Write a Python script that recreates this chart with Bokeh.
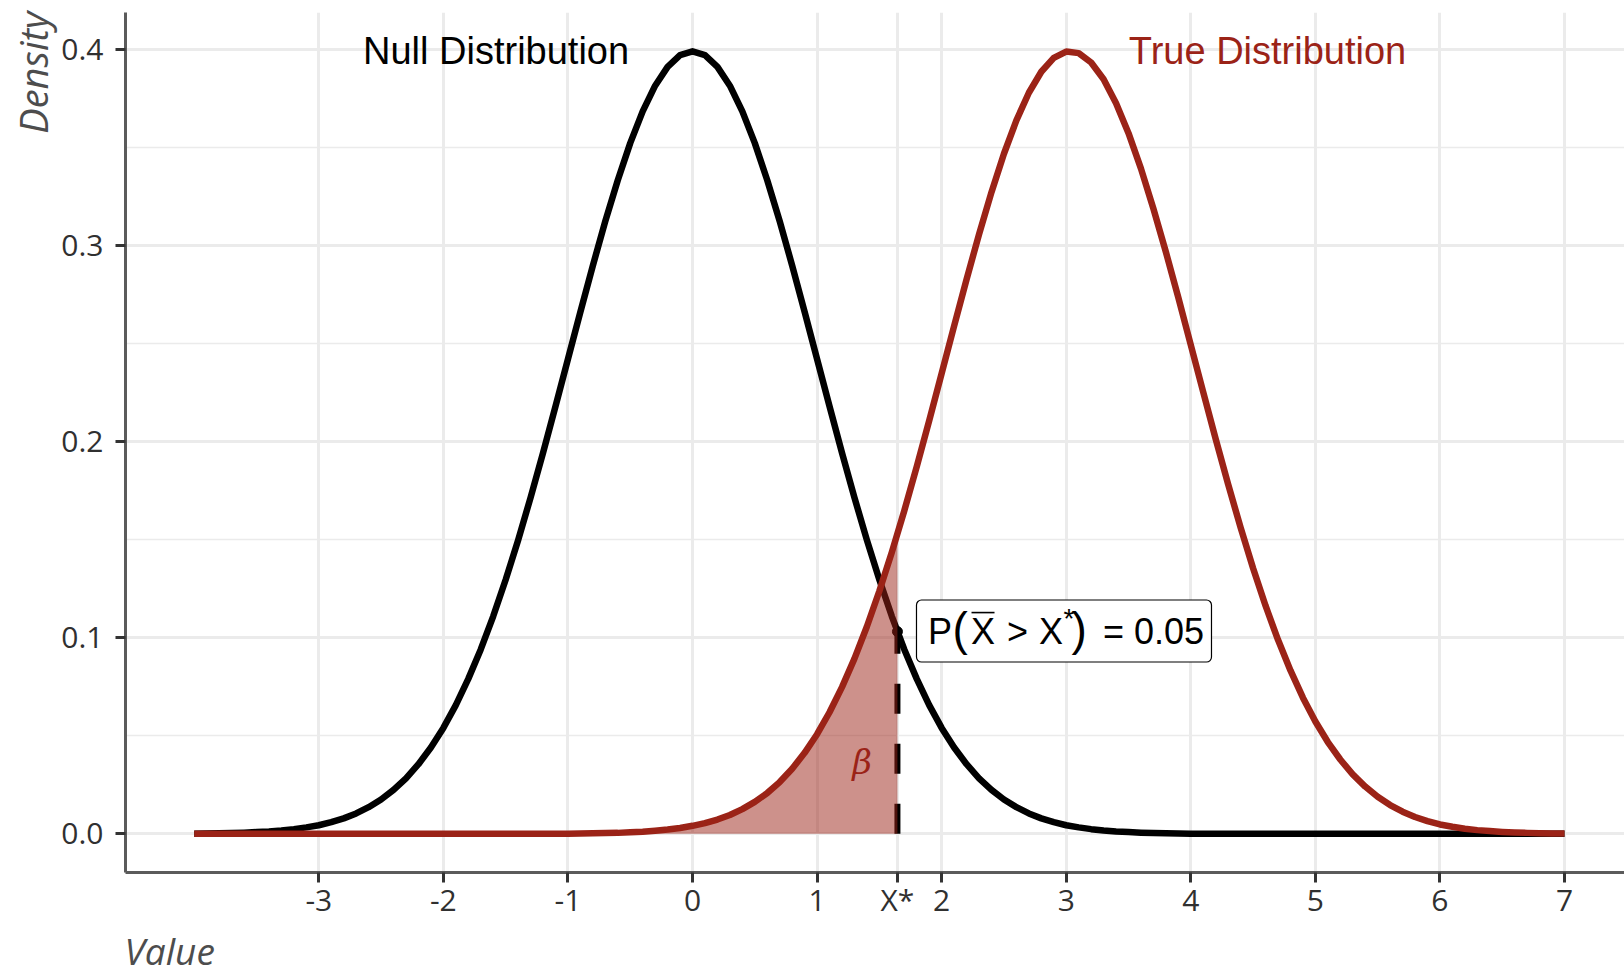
import math
from bokeh.plotting import figure
from bokeh.models import FixedTicker, PrintfTickFormatter, Range1d, Title
from bokeh.core.properties import value
from bokeh.embed import file_html
from bokeh.resources import INLINE

# ---------------- data ----------------
x_grid = [round(-4.0 + 0.1 * i, 1) for i in range(111)]

null_density = [
    0.0001, 0.0002, 0.0003, 0.0004, 0.0006, 0.0009, 0.0012, 0.0017, 0.0024, 0.0033,
    0.0044, 0.0060, 0.0079, 0.0104, 0.0136, 0.0175, 0.0224, 0.0283, 0.0355, 0.0440,
    0.0540, 0.0656, 0.0790, 0.0940, 0.1109, 0.1295, 0.1497, 0.1714, 0.1942, 0.2179,
    0.2420, 0.2661, 0.2897, 0.3123, 0.3332, 0.3521, 0.3683, 0.3814, 0.3910, 0.3970,
    0.3989,
    0.3970, 0.3910, 0.3814, 0.3683, 0.3521, 0.3332, 0.3123, 0.2897, 0.2661, 0.2420,
    0.2179, 0.1942, 0.1714, 0.1497, 0.1295, 0.1109, 0.0940, 0.0790, 0.0656, 0.0540,
    0.0440, 0.0355, 0.0283, 0.0224, 0.0175, 0.0136, 0.0104, 0.0079, 0.0060, 0.0044,
    0.0033, 0.0024, 0.0017, 0.0012, 0.0009, 0.0006, 0.0004, 0.0003, 0.0002, 0.0001,
    0.0001, 0.0000, 0.0000, 0.0000, 0.0000, 0.0000, 0.0000, 0.0000, 0.0000, 0.0000,
    0.0000, 0.0000, 0.0000, 0.0000, 0.0000, 0.0000, 0.0000, 0.0000, 0.0000, 0.0000,
    0.0000, 0.0000, 0.0000, 0.0000, 0.0000, 0.0000, 0.0000, 0.0000, 0.0000, 0.0000,
]

true_density = [
    0.0000, 0.0000, 0.0000, 0.0000, 0.0000, 0.0000, 0.0000, 0.0000, 0.0000, 0.0000,
    0.0000, 0.0000, 0.0000, 0.0000, 0.0000, 0.0000, 0.0000, 0.0000, 0.0000, 0.0000,
    0.0000, 0.0000, 0.0000, 0.0000, 0.0000, 0.0000, 0.0000, 0.0000, 0.0000, 0.0001,
    0.0001, 0.0002, 0.0003, 0.0004, 0.0005, 0.0008, 0.0011, 0.0016, 0.0022, 0.0030,
    0.0041, 0.0055, 0.0073, 0.0096, 0.0126, 0.0163, 0.0208, 0.0264, 0.0332, 0.0413,
    0.0508, 0.0620, 0.0748, 0.0893, 0.1057, 0.1238, 0.1435, 0.1647, 0.1872, 0.2107,
    0.2347, 0.2589, 0.2827, 0.3056, 0.3271, 0.3467, 0.3637, 0.3778, 0.3885, 0.3956,
    0.3988,
    0.3980, 0.3932, 0.3847, 0.3725, 0.3572, 0.3391, 0.3187, 0.2966, 0.2733, 0.2492,
    0.2251, 0.2012, 0.1781, 0.1561, 0.1354, 0.1163, 0.0989, 0.0833, 0.0694, 0.0573,
    0.0468, 0.0379, 0.0303, 0.0241, 0.0189, 0.0147, 0.0113, 0.0086, 0.0065, 0.0048,
    0.0036, 0.0026, 0.0019, 0.0014, 0.0010, 0.0007, 0.0005, 0.0003, 0.0002, 0.0002,
]

x_star = 1.645
null_at_x_star = 0.1031
true_at_x_star = 0.1529

shade_x = x_grid[:57] + [x_star]
shade_y = true_density[:57] + [true_at_x_star]

x_ticks = [-3, -2, -1, 0, 1, 1.645, 2, 3, 4, 5, 6, 7]
y_ticks = [0.0, 0.1, 0.2, 0.3, 0.4]
y_minor = [0.05, 0.15, 0.25, 0.35]

RED = "#9B2317"
GRID = "#EBEBEB"
TICK_FONT = "Open Sans"
ANN_FONT = "Liberation Sans"

# ---------------- figure ----------------
p = figure(width=1624, height=975,
           x_range=Range1d(-4.5517, 7.4815), y_range=Range1d(-0.0197, 0.4187),
           output_backend="svg", toolbar_location=None,
           min_border_left=125, min_border_right=0, min_border_top=12, min_border_bottom=102)
p.outline_line_color = None
p.background_fill_color = "white"
p.border_fill_color = "white"

xt = FixedTicker(ticks=x_ticks, minor_ticks=[])
yt = FixedTicker(ticks=y_ticks, minor_ticks=y_minor)

xax = p.xaxis[0]
xax.ticker = xt
xax.formatter = PrintfTickFormatter(format="%d")
xax.major_label_overrides = {1.645: "X*"}
yax = p.yaxis[0]
yax.ticker = yt
yax.formatter = PrintfTickFormatter(format="%.1f")

for ax in (xax, yax):
    ax.axis_line_color = "#5B5B5B"
    ax.axis_line_width = 3
    ax.major_tick_line_color = "#333333"
    ax.major_tick_line_width = 3
    ax.major_tick_out = 10
    ax.major_tick_in = 0
    ax.minor_tick_line_color = None
    ax.major_label_text_font = TICK_FONT
    ax.major_label_text_font_size = "30px"
    ax.major_label_text_color = "#303030"
xax.major_label_standoff = -4
yax.major_label_standoff = 12

# axis titles as side titles (left-aligned "Value", top-aligned "Density")
p.add_layout(Title(text="Value", align="left", offset=-1, standoff=0,
                   text_font=TICK_FONT, text_font_style="italic", text_font_size="37px",
                   text_color="#4D4D4D"), "below")
p.add_layout(Title(text="Density", align="right", offset=-1, standoff=0,
                   text_font=TICK_FONT, text_font_style="italic", text_font_size="38px",
                   text_color="#4D4D4D"), "left")

p.xgrid.ticker = xt
p.ygrid.ticker = yt
p.xgrid.grid_line_color = GRID
p.xgrid.grid_line_width = 3
p.ygrid.grid_line_color = GRID
p.ygrid.grid_line_width = 3
p.ygrid.minor_grid_line_color = GRID
p.ygrid.minor_grid_line_width = 1.6

# ---------------- curves ----------------
p.line(x_grid, null_density, line_color="black", line_width=6.5, line_join="round")
p.line(x_grid, true_density, line_color=RED, line_width=6.5, line_join="round")
p.segment(x0=[x_star], y0=[0.0], x1=[x_star], y1=[null_at_x_star],
          line_color="black", line_width=6, line_dash="30 30")
p.scatter([x_star], [null_at_x_star], size=10, color="black")
p.varea(x=shade_x, y1=[0.0] * len(shade_x), y2=shade_y, fill_color=RED, fill_alpha=0.5)

# ---------------- annotations ----------------
p.text(x=[-1.577], y=[0.3991], text=["Null Distribution"], text_font=value(ANN_FONT),
       text_font_size="38px", text_color="black", text_align="center", text_baseline="middle")
p.text(x=[4.616], y=[0.3991], text=["True Distribution"], text_font=value(ANN_FONT),
       text_font_size="38px", text_color=RED, text_align="center", text_baseline="middle")
p.text(x=[1.362], y=[0.0366], text=["β"], text_font=value("DejaVu Serif"),
       text_font_style="italic", text_font_size="34px", text_color=RED,
       text_align="center", text_baseline="middle")

# label box
p.rect(x=[2.982], y=[0.1034], width=[295], height=[62], width_units="screen", height_units="screen",
       fill_color="white", line_color="black", line_width=1.2, border_radius=5)
pieces = [
    ("P", 30.5, 0.0, "36px", "left"),
    ("(", 55.0, -2.5, "46px", "left"),
    ("X", 73.6, 0.0, "36px", "left"),
    (">", 109.6, 0.0, "36px", "left"),
    ("X", 141.6, 0.0, "36px", "left"),
    ("*", 171.5, -13.0, "28px", "center"),
    (")", 174.0, -2.5, "46px", "left"),
    ("= 0.05", 205.5, 0.0, "36px", "left"),
]
for t, dx, dy, fs, al in pieces:
    p.text(x=[x_star], y=[null_at_x_star], text=[t], x_offset=dx, y_offset=dy,
           text_font=value(ANN_FONT), text_font_size=fs, text_color="black",
           text_align=al, text_baseline="middle")
# overline over first X
p.rect(x=[2.332], y=[0.1128], width=[23], height=[1.6], width_units="screen", height_units="screen",
       fill_color="black", line_color=None)

open("out.html", "w").write(file_html(p, INLINE))
